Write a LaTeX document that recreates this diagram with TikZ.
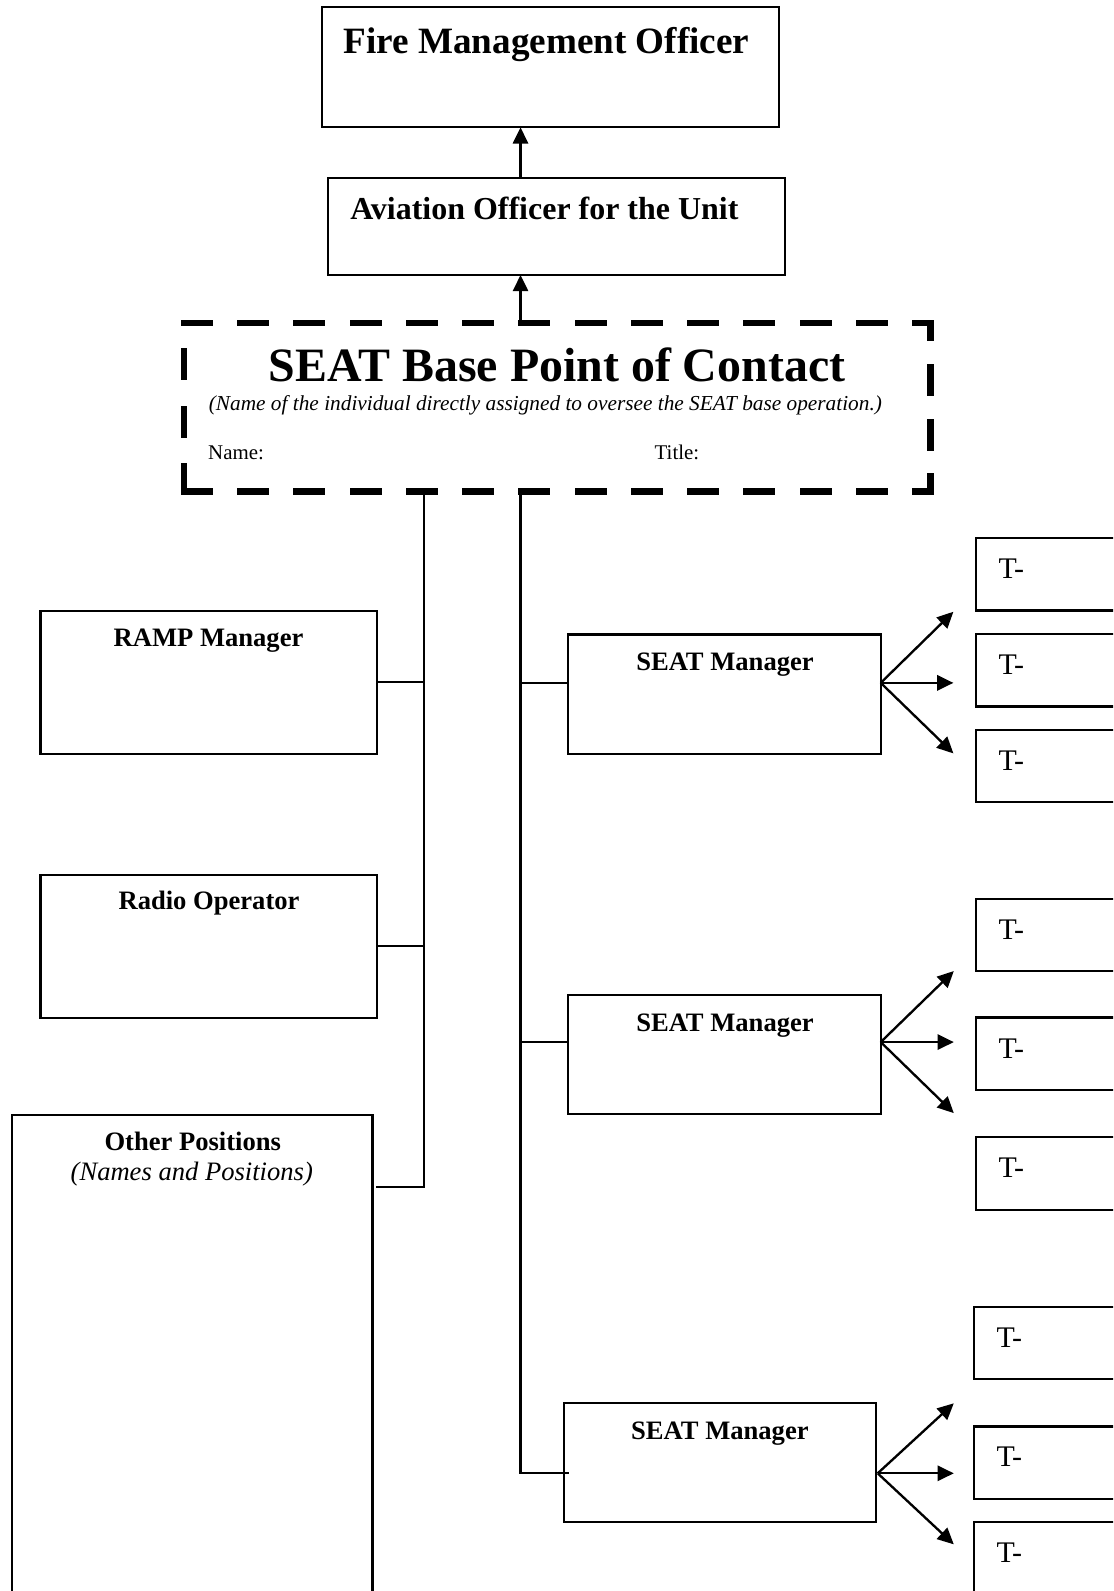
\documentclass[tikz,border=0pt]{standalone}
\usepackage{fontspec}
\setmainfont{Liberation Serif}
\usetikzlibrary{arrows.meta}
\begin{document}
\begin{tikzpicture}[x=1pt,y=-1pt,
  box/.style={draw, line width=2.2pt, inner sep=0pt, outer sep=0pt},
  conn/.style={line width=2.2pt},
  arr/.style={line width=2.3pt, -{Triangle[length=16pt,width=15pt]}},
  dashside/.style={line width=6.5pt, line cap=rect},
  bl/.style={inner sep=0pt, anchor=base, font=\fontsize{26.2}{30}\selectfont\bfseries},
  itl/.style={inner sep=0pt, anchor=base, font=\fontsize{26.2}{30}\selectfont\itshape},
  tl/.style={inner sep=0pt, anchor=base west, font=\fontsize{29.5}{32}\selectfont},
  tbox/.style={box, minimum width=168pt, minimum height=71.5pt},
  mbox/.style={box, minimum width=331.5pt, minimum height=141pt},
  sbox/.style={box, minimum width=308pt, minimum height=117.5pt}]

\useasboundingbox (0,0) rectangle (1097,1568);
\clip (0,0) rectangle (1097,1568);
\fill[white] (0,0) rectangle (1097,1568);

% top boxes
\node[box, minimum width=450.3pt, minimum height=118.3pt] (fmo) at (542.85,66.35) {};
\node[inner sep=0pt, anchor=base, font=\fontsize{36.6}{40}\selectfont\bfseries] (fmot) at (538.5,52.5) {Fire Management Officer};
\node[box, minimum width=450.1pt, minimum height=95.2pt] (ao) at (548.65,223.4) {};
\node[inner sep=0pt, anchor=base, font=\fontsize{31.5}{35}\selectfont\bfseries] (aot) at (536.5,216.8) {Aviation Officer for the Unit};

% dashed point of contact box
\node[inner sep=0pt, outer sep=0pt, minimum width=735.5pt, minimum height=166pt] (poc) at (549.25,401.5) {};
\draw[dashside, dash pattern=on 25pt off 30.44pt] (poc.north west) -- (poc.north east);
\draw[dashside, dash pattern=on 25pt off 30.44pt] (poc.south west) -- (poc.south east);
\draw[dashside, dash pattern=on 25pt off 31.5pt] (poc.south west) -- (poc.north west);
\draw[dashside, dash pattern=on 25pt off 28.83pt, dash phase=10.25pt] (poc.north east) -- (poc.south east);
\node[inner sep=0pt, anchor=base, font=\fontsize{47.2}{50}\selectfont\bfseries] (poct) at (549,376) {SEAT Base Point of Contact};
\node[inner sep=0pt, anchor=base, font=\fontsize{21}{24}\selectfont\itshape] (poci) at (537.5,405) {(Name of the individual directly assigned to oversee the SEAT base operation.)};
\node[inner sep=0pt, anchor=base west, font=\fontsize{20.6}{24}\selectfont] (pocn) at (205,453) {Name:};
\node[inner sep=0pt, anchor=base west, font=\fontsize{20.6}{24}\selectfont] (pocti) at (645,453) {Title:};

% left column
\node[mbox] (ramp) at (205.75,672.5) {};
\node[bl] (rampt) at (205.5,636.7) {RAMP Manager};
\node[mbox] (radio) at (205.75,932.5) {};
\node[bl] (radiot) at (206,896.7) {Radio Operator};
\node[box, minimum width=355.5pt, minimum height=521.5pt] (other) at (189.25,1359.25) {};
\node[bl] (othert) at (190,1133.5) {Other Positions};
\node[itl] (otheri) at (189,1163) {(Names and Positions)};

% SEAT managers
\node[sbox] (sm1) at (714,684) {};
\node[bl] (sm1t) at (714.5,661) {SEAT Manager};
\node[sbox] (sm2) at (714,1039.5) {};
\node[bl] (sm2t) at (714.5,1017) {SEAT Manager};
\node[sbox, minimum width=307pt] (sm3) at (709.5,1441.5) {};
\node[bl] (sm3t) at (709.5,1419) {SEAT Manager};

% T- boxes
\node[tbox] (t11) at (1046,566) {};
\node[tbox] (t12) at (1046,660.5) {};
\node[tbox] (t13) at (1046,755) {};
\node[tbox] (t21) at (1046,921.5) {};
\node[tbox] (t22) at (1046,1038.5) {};
\node[tbox] (t23) at (1046,1156.5) {};
\node[tbox] (t31) at (1044,1323.5) {};
\node[tbox] (t32) at (1044,1441.5) {};
\node[tbox] (t33) at (1044,1535.5) {};
\foreach \b in {t11,t12,t13,t21,t22,t23,t31,t32,t33}{
  \node[tl] (\b t) at ([xshift=22pt,yshift=-40pt]\b.north west) {T-};
}

% connectors
\coordinate (ax) at (513,0);
\coordinate (lx) at (418,0);
\draw[arr] (ax |- ao.north) -- (ax |- fmo.south);
\draw[arr] (ax |- poc.north) -- (ax |- ao.south);

\coordinate (oc) at (418,1170);
\draw[conn] (lx |- poc.south) -- (oc) -- ([xshift=4pt]other.east |- oc);
\draw[conn] (ramp.east) -- (lx |- ramp.east);
\draw[conn] (radio.east) -- (lx |- radio.east);

\coordinate (s1) at (560,673);
\coordinate (s2) at (560,1027);
\coordinate (s3) at (561,1452);
\draw[conn] (ax |- poc.south) -- (ax |- s3) -- (s3);
\draw[conn] (ax |- s1) -- (s1);
\draw[conn] (ax |- s2) -- (s2);

% fan-out arrows
\coordinate (o1) at (868,673);
\coordinate (e11) at (939.6,602.9);
\coordinate (e12) at (939.6,673);
\coordinate (e13) at (939.6,742.5);
\coordinate (o2) at (868,1027);
\coordinate (e21) at (940,957);
\coordinate (e22) at (940,1027);
\coordinate (e23) at (940,1097);
\coordinate (o3) at (865,1452);
\coordinate (e31) at (940,1383);
\coordinate (e32) at (940,1452);
\coordinate (e33) at (940,1522);
\foreach \o/\e in {o1/e11,o1/e12,o1/e13,o2/e21,o2/e22,o2/e23,o3/e31,o3/e32,o3/e33}{
  \draw[arr] (\o) -- (\e);
}
\end{tikzpicture}
\end{document}
